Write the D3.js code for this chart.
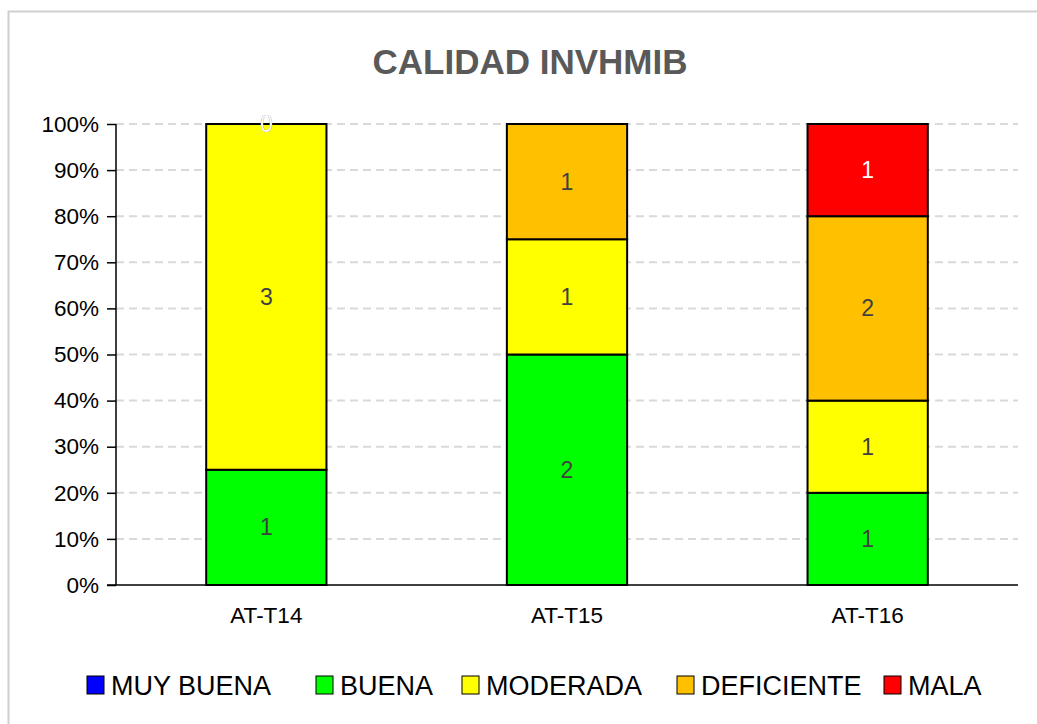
<!DOCTYPE html>
<html>
<head>
<meta charset="utf-8">
<script src="https://cdn.jsdelivr.net/npm/d3@7"></script>
<style>
  body { margin: 0; background: #fff; }
  text { font-family: "Liberation Sans", Arial, sans-serif; }
</style>
</head>
<body>
<svg id="chart" width="1037" height="724"></svg>
<script>
// data
const categories = ["AT-T14", "AT-T15", "AT-T16"];
const seriesNames = ["MUY BUENA", "BUENA", "MODERADA", "DEFICIENTE", "MALA"];
const muyBuena = [0, 0, 0];
const buena = [1, 2, 1];
const moderada = [3, 1, 1];
const deficiente = [0, 1, 2];
const mala = [0, 0, 1];
const yTicks = [0, 0.1, 0.2, 0.3, 0.4, 0.5, 0.6, 0.7, 0.8, 0.9, 1];
// zero labels that Excel still shows (series, category)
const zeroLabels = [["DEFICIENTE", "AT-T14"], ["MALA", "AT-T14"]];

const colours = ["#0000ff", "#00ff00", "#ffff00", "#ffc000", "#ff0000"];
const labelColours = ["#404040", "#404040", "#404040", "#404040", "#ffffff"];

const rows = categories.map((c, i) => ({
  cat: c,
  "MUY BUENA": muyBuena[i],
  "BUENA": buena[i],
  "MODERADA": moderada[i],
  "DEFICIENTE": deficiente[i],
  "MALA": mala[i],
}));
rows.forEach((r) => {
  const total = d3.sum(seriesNames, (s) => r[s]);
  seriesNames.forEach((s) => (r[s + "_p"] = r[s] / total));
});

const stack = d3.stack().keys(seriesNames.map((s) => s + "_p"));
const stacked = stack(rows);

const svg = d3.select("#chart");
const margin = { top: 124, left: 116, right: 19, bottom: 139 };
const width = 1037;
const height = 724;

// outer frame
svg.append("rect")
  .attr("x", 8.5).attr("y", 11.5)
  .attr("width", 1040).attr("height", 720)
  .attr("fill", "#fff").attr("stroke", "#d0d0d0").attr("stroke-width", 2);

const x = d3.scaleBand()
  .domain(categories)
  .range([margin.left, width - margin.right])
  .paddingInner(0.6)
  .paddingOuter(0.3);

const y = d3.scaleLinear()
  .domain([0, 1])
  .range([height - margin.bottom, margin.top]);

// title
svg.append("text")
  .attr("x", 530).attr("y", 74)
  .attr("text-anchor", "middle")
  .attr("font-size", 35).attr("font-weight", "bold")
  .attr("fill", "#595959")
  .text("CALIDAD INVHMIB");

// gridlines
svg.append("g")
  .selectAll("line")
  .data(yTicks.filter((t) => t > 0))
  .join("line")
  .attr("x1", margin.left).attr("x2", width - margin.right)
  .attr("y1", (d) => y(d)).attr("y2", (d) => y(d))
  .attr("stroke", "#d9d9d9").attr("stroke-width", 2)
  .attr("stroke-dasharray", "8,5");

// bars
const layer = svg.append("g")
  .selectAll("g")
  .data(stacked)
  .join("g")
  .attr("fill", (d, i) => colours[i]);

layer.selectAll("rect")
  .data((d) => d.filter((v) => v[1] - v[0] > 0))
  .join("rect")
  .attr("x", (d) => x(d.data.cat))
  .attr("y", (d) => y(d[1]))
  .attr("width", x.bandwidth())
  .attr("height", (d) => y(d[0]) - y(d[1]))
  .attr("stroke", "#000").attr("stroke-width", 2);

// data labels
stacked.forEach((s, i) => {
  const name = seriesNames[i];
  const pts = s.filter((v) =>
    v.data[name] > 0 || zeroLabels.some((z) => z[0] === name && z[1] === v.data.cat)
  );
  svg.append("g")
    .selectAll("text")
    .data(pts)
    .join("text")
    .attr("x", (d) => x(d.data.cat) + x.bandwidth() / 2)
    .attr("y", (d) => (y(d[0]) + y(d[1])) / 2 + 8)
    .attr("text-anchor", "middle")
    .attr("font-size", 23)
    .attr("fill", labelColours[i])
    .text((d) => d.data[name]);
});

// y axis
const yAxis = svg.append("g")
  .attr("transform", `translate(${margin.left},0)`)
  .call(d3.axisLeft(y).tickValues(yTicks).tickFormat(d3.format(".0%")).tickSize(9).tickPadding(8));
yAxis.select(".domain").attr("stroke", "#000").attr("stroke-width", 1.5).attr("d", `M0,${y(1)}V${y(0)}`);
yAxis.selectAll(".tick line").attr("stroke", "#000").attr("stroke-width", 1.5);
yAxis.selectAll(".tick text")
  .attr("font-family", "Liberation Sans, Arial, sans-serif")
  .attr("font-size", 22.5).attr("fill", "#000");

// x axis
const xAxis = svg.append("g")
  .attr("transform", `translate(0,${y(0)})`)
  .call(d3.axisBottom(x).tickSize(0).tickPadding(22));
xAxis.select(".domain").attr("stroke", "#000").attr("stroke-width", 1.5)
  .attr("d", `M${margin.left - 9},0H${width - margin.right}`);
xAxis.selectAll(".tick text")
  .attr("font-family", "Liberation Sans, Arial, sans-serif")
  .attr("font-size", 22.5).attr("fill", "#000")
  .attr("dy", "0.71em");

// legend
const legendX = [87, 316, 462, 677, 884];
const legend = svg.append("g")
  .selectAll("g")
  .data(seriesNames)
  .join("g")
  .attr("transform", (d, i) => `translate(${legendX[i]},676)`);
legend.append("rect")
  .attr("width", 17).attr("height", 18)
  .attr("fill", (d, i) => colours[i])
  .attr("stroke", "#000").attr("stroke-width", 1);
legend.append("text")
  .attr("x", 24).attr("y", 19)
  .attr("font-size", 27).attr("fill", "#000")
  .text((d) => d);
</script>
</body>
</html>
